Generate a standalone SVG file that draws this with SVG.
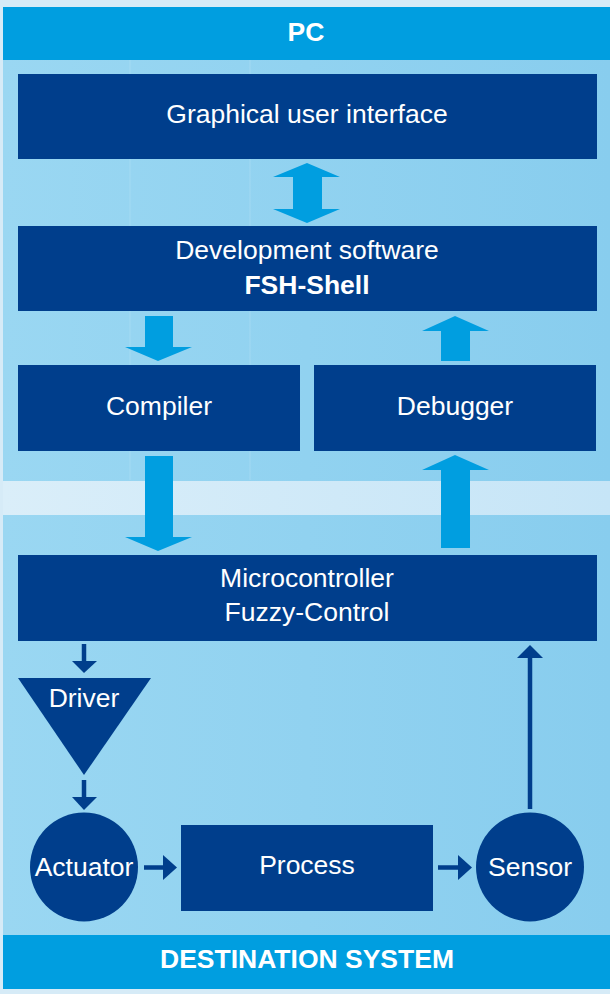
<svg xmlns="http://www.w3.org/2000/svg" width="610" height="994" viewBox="0 0 610 994">
<defs>
<linearGradient id="panel" x1="0" y1="0" x2="1" y2="0">
<stop offset="0" stop-color="#9ad7f2"/>
<stop offset="1" stop-color="#88cdee"/>
</linearGradient>
<linearGradient id="band" x1="0" y1="0" x2="1" y2="0">
<stop offset="0" stop-color="#daeef9"/>
<stop offset="1" stop-color="#c6e5f7"/>
</linearGradient>
</defs>
<style>
.hdr{fill:#009ee0}
.box{fill:#003e8c}
.big{fill:#009ee0}
.t{font-family:"Liberation Sans",Arial,sans-serif;font-size:26.5px;fill:#ffffff;text-anchor:middle}
.b{font-weight:bold}
.thin{stroke:#003e8c;stroke-width:4.5;fill:none}
.tri{fill:#003e8c}
</style>
<rect x="0" y="0" width="610" height="994" fill="#d6ebf7"/>
<rect x="3" y="7" width="607" height="474" fill="url(#panel)"/>
<rect x="3" y="481" width="607" height="34" fill="url(#band)"/>
<rect x="3" y="515" width="607" height="474" fill="url(#panel)"/>
<g opacity="0.07" stroke="#ffffff" stroke-width="2" fill="none">
<path d="M130,60 L130,480"/>
<path d="M250,60 L250,480"/>
</g>

<g id="pc-header">
<rect class="hdr" x="3" y="7" width="607" height="53"/>
<text class="t b" x="306" y="41">PC</text>
</g>

<g id="gui">
<rect class="box" x="18" y="74" width="579" height="85"/>
<text class="t" x="307" y="123">Graphical user interface</text>
</g>

<g id="devsw">
<rect class="box" x="18" y="226" width="579" height="85"/>
<text class="t" x="307" y="259">Development software</text>
<text class="t b" x="307" y="294">FSH-Shell</text>
</g>

<g id="compiler">
<rect class="box" x="18" y="365" width="282" height="86"/>
<text class="t" x="159" y="415">Compiler</text>
</g>

<g id="debugger">
<rect class="box" x="314" y="365" width="282" height="86"/>
<text class="t" x="455" y="415">Debugger</text>
</g>

<g id="microcontroller">
<rect class="box" x="18" y="555" width="579" height="86"/>
<text class="t" x="307" y="587">Microcontroller</text>
<text class="t" x="307" y="621">Fuzzy-Control</text>
</g>

<g id="driver">
<polygon class="tri" points="18,678 151,678 84,775"/>
<text class="t" x="84" y="707">Driver</text>
</g>

<g id="actuator">
<ellipse class="box" cx="84" cy="867" rx="54" ry="54.5"/>
<text class="t" x="84" y="876">Actuator</text>
</g>

<g id="process">
<rect class="box" x="181" y="825" width="252" height="86"/>
<text class="t" x="307" y="874">Process</text>
</g>

<g id="sensor">
<ellipse class="box" cx="530" cy="867" rx="54" ry="54.5"/>
<text class="t" x="530" y="876">Sensor</text>
</g>

<g id="dest-header">
<rect class="hdr" x="3" y="935" width="607" height="54"/>
<text class="t b" x="307" y="968">DESTINATION SYSTEM</text>
</g>

<g id="connectors">
<polygon class="big" points="307,163 340,177 322,177 322,209 340,209 307,223 273,209 293,209 293,177 273,177"/>
<polygon class="big" points="145,316 173,316 173,347 192,347 158,361 125,347 145,347"/>
<polygon class="big" points="455,316 489,331 470,331 470,361 441,361 441,331 422,331"/>
<polygon class="big" points="145,456 173,456 173,537 192,537 158,551 125,537 145,537"/>
<polygon class="big" points="455,455 489,470 470,470 470,548 441,548 441,470 422,470"/>
<line class="thin" x1="84" y1="644" x2="84" y2="662"/>
<polygon class="tri" points="72,661 97,661 84,673"/>
<line class="thin" x1="84" y1="780" x2="84" y2="798"/>
<polygon class="tri" points="72,797 97,797 84,810"/>
<line class="thin" x1="144" y1="867.5" x2="164" y2="867.5"/>
<polygon class="tri" points="163,855 177,867.5 163,880"/>
<line class="thin" x1="438" y1="867.5" x2="459" y2="867.5"/>
<polygon class="tri" points="458,855 472,867.5 458,880"/>
<line class="thin" x1="530" y1="809" x2="530" y2="657"/>
<polygon class="tri" points="517,658 543,658 530,645"/>
</g>
</svg>
